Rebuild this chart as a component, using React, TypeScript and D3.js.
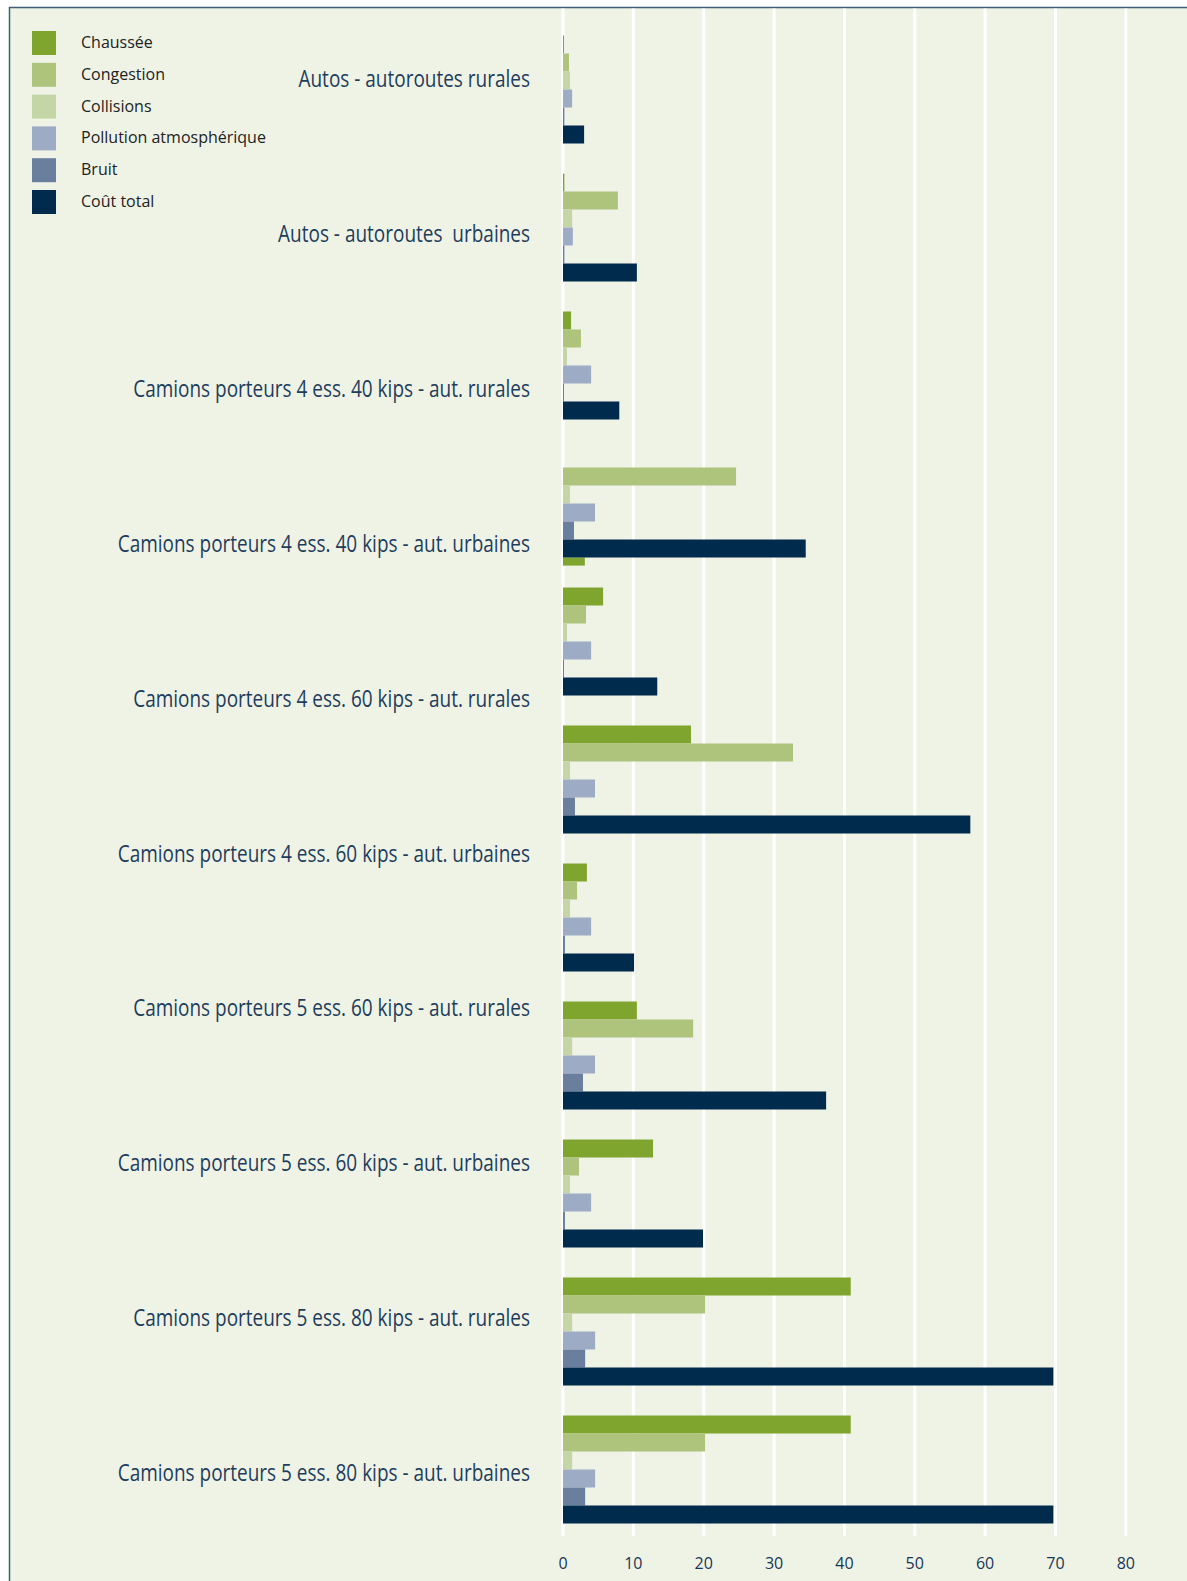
import React from "react";
import * as d3 from "d3";

const seriesKeys = ["Chaussée", "Congestion", "Collisions", "Pollution atmosphérique", "Bruit", "Coût total"];
const seriesColors = ["#7fa52f", "#aec37b", "#c5d6a6", "#9eabc4", "#6a7f9e", "#002b4c"];

const categoryLabels = [
  "Autos - autoroutes rurales",
  "Autos - autoroutes  urbaines",
  "Camions porteurs 4 ess. 40 kips - aut. rurales",
  "Camions porteurs 4 ess. 40 kips - aut. urbaines",
  "Camions porteurs 4 ess. 60 kips - aut. rurales",
  "Camions porteurs 4 ess. 60 kips - aut. urbaines",
  "Camions porteurs 5 ess. 60 kips - aut. rurales",
  "Camions porteurs 5 ess. 60 kips - aut. urbaines",
  "Camions porteurs 5 ess. 80 kips - aut. rurales",
  "Camions porteurs 5 ess. 80 kips - aut. urbaines",
];

// 11 bar groups as drawn in the reference
const chaussee = [0.15, 0.2, 1.15, 3.1, 5.7, 18.2, 3.4, 10.5, 12.8, 40.9, 40.9];
const congestion = [0.85, 7.8, 2.55, 24.6, 3.27, 32.7, 2.0, 18.5, 2.27, 20.2, 20.2];
const collisions = [1.0, 1.3, 0.57, 1.0, 0.57, 1.0, 1.0, 1.3, 1.0, 1.3, 1.3];
const pollution = [1.3, 1.4, 4.0, 4.55, 4.0, 4.55, 4.0, 4.55, 4.0, 4.57, 4.57];
const bruit = [0.2, 0.2, 0.15, 1.56, 0.15, 1.7, 0.28, 2.84, 0.28, 3.15, 3.15];
const coutTotal = [3.0, 10.5, 8.0, 34.5, 13.4, 57.9, 10.1, 37.4, 19.9, 69.7, 69.7];
// the reference draws this group's Chaussée bar after the total bar
const chausseeAfterTotal = [false, false, false, true, false, false, false, false, false, false, false];

const xTicks = [0, 10, 20, 30, 40, 50, 60, 70, 80];

const W = 1187;
const H = 1581;

export default function App() {
  const seriesValues = [chaussee, congestion, collisions, pollution, bruit, coutTotal];
  const x = d3.scaleLinear().domain([0, 80]).range([563, 1125.8]);
  const groups = d3
    .scaleBand<number>()
    .domain(d3.range(coutTotal.length))
    .range([20.5, 1538.5])
    .paddingInner(30 / 138)
    .paddingOuter(15 / 138);
  const inner = d3.scaleBand<string>().domain(seriesKeys).range([0, groups.bandwidth()]);
  const labelY = d3.scaleBand<string>().domain(categoryLabels).range([1.25, 1550.3]);
  const labelFont = 23;

  const bars: React.ReactNode[] = [];
  seriesValues.forEach((vals, si) => {
    vals.forEach((v, gi) => {
      const g0 = groups(gi)!;
      let y = g0 + inner(seriesKeys[si])!;
      let h = inner.bandwidth();
      if (si === 0 && chausseeAfterTotal[gi]) {
        y = g0 + groups.bandwidth();
        h = inner.bandwidth() * 0.45;
      }
      bars.push(
        <rect
          key={`${si}-${gi}`}
          x={x(0)}
          y={y}
          width={x(v) - x(0)}
          height={h}
          fill={seriesColors[si]}
        />
      );
    });
  });

  return (
    <svg
      width={W}
      height={H}
      style={{ position: "absolute", left: 0, top: 0, display: "block" }}
      xmlns="http://www.w3.org/2000/svg"
    >
      <rect x={0} y={0} width={W} height={H} fill="#ffffff" />
      <rect x={9} y={7} width={W - 9} height={H - 7} fill="#eff3e6" />
      <line x1={9} y1={7.5} x2={W} y2={7.5} stroke="#3f5d78" strokeWidth={1.5} />
      <line x1={9.5} y1={7} x2={9.5} y2={H} stroke="#3f5d78" strokeWidth={1.5} />

      {/* gridlines */}
      {xTicks.map((t) => (
        <line key={t} x1={x(t)} x2={x(t)} y1={8.5} y2={1536} stroke="#ffffff" strokeWidth={3} />
      ))}

      {bars}

      {/* tick labels */}
      {xTicks.map((t) => (
        <text
          key={`t${t}`}
          x={x(t)}
          y={1569}
          textAnchor="middle"
          fontFamily="'Open Sans', sans-serif"
          fontSize={16}
          fontWeight={500}
          fill="#173656"
        >
          {t}
        </text>
      ))}

      {/* category labels */}
      {categoryLabels.map((c) => (
        <text
          key={c}
          transform={`translate(530, ${labelY(c)! + labelY.bandwidth() / 2 + labelFont * 0.36}) scale(0.825, 1)`}
          x={0}
          y={0}
          textAnchor="end"
          fontFamily="'Open Sans', 'Noto Sans', sans-serif"
          fontSize={labelFont}
          fill="#1e3d5c"
          style={{ whiteSpace: "pre" }}
        >
          {c}
        </text>
      ))}

      {/* legend */}
      {seriesKeys.map((k, i) => (
        <g key={k} transform={`translate(32, ${31 + i * 31.8})`}>
          <rect x={0} y={0} width={24} height={24} fill={seriesColors[i]} />
          <text x={49} y={17} fontFamily="'Open Sans', sans-serif" fontSize={16} fill="#222222">
            {k}
          </text>
        </g>
      ))}
    </svg>
  );
}
